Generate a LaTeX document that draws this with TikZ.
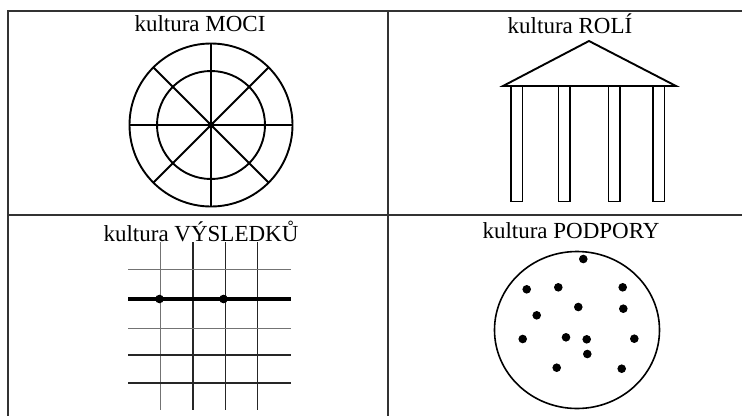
\documentclass[tikz,border=0pt]{standalone}
\usepackage{fontspec}
\setmainfont{Liberation Serif}
\begin{document}
\begin{tikzpicture}[x=1pt,y=-1pt,
  tbl/.style={line width=1.2pt,black!80},
  figline/.style={line width=1.9pt,black},
  title/.style={font=\fontsize{23}{25}\selectfont,inner sep=0pt,anchor=center},
  gridthin/.style={line width=1pt,black!55},
  griddark/.style={line width=1.3pt,black!85}]
\useasboundingbox[fill=white] (0,0) rectangle (742,416);
% table
\draw[tbl] (7,11) -- (742,11);
\draw[tbl] (8,11) -- (8,416);
\draw[tbl] (388,11) -- (388,416);
\draw[tbl] (8,215) -- (742,215);
% titles
\node[title] (t1) at (200,24) {kultura MOCI};
\node[title] (t2) at (570,24) {kultura ROLÍ};
\node[title] (t3) at (201,231) {kultura VÝSLEDKŮ};
\node[title] (t4) at (571,231) {kultura PODPORY};
% power culture
\coordinate (c) at (211,125);
\draw[figline] (c) circle (81.5);
\draw[figline] (c) circle (54);
\foreach \a in {0,45,...,315} {\draw[figline] (c) -- ++(\a:81.5);}
\fill (c) circle (3.6);
% role culture
\draw[figline,line join=miter] (503,86) -- (589,41) -- (676,86) -- cycle;
\foreach \x in {511,558.5,608.5,653} {\draw[line width=1.5pt] (\x,86) rectangle ++(11.5,115.5);}
% task culture
\foreach \x in {160}{\draw[gridthin] (\x,242) -- (\x,410);}
\foreach \x in {193,225.5,257.5}{\draw[griddark] (\x,242) -- (\x,410);}
\foreach \y in {269,328}{\draw[gridthin] (128,\y) -- (291,\y);}
\foreach \y in {355,383}{\draw[griddark] (128,\y) -- (291,\y);}
\draw[line width=3.8pt] (128,299) -- (291,299);
\fill (159.5,299) circle (4.3);
\fill (223.5,299) circle (4.3);
% person culture
\draw[line width=1.6pt] (577,330) ellipse (82.5 and 78.5);
\foreach \p in {(583.3,259),(526.7,289.3),(558.3,287.3),(622.7,287.3),(578.3,307),(623.3,308.7),(536.7,315.3),(522.7,339),(566,337.3),(586.7,339.3),(634.3,338.7),(587.3,354),(556.7,367.7),(621.7,368.7)}
  {\fill \p circle (4.3);}
\end{tikzpicture}
\end{document}
